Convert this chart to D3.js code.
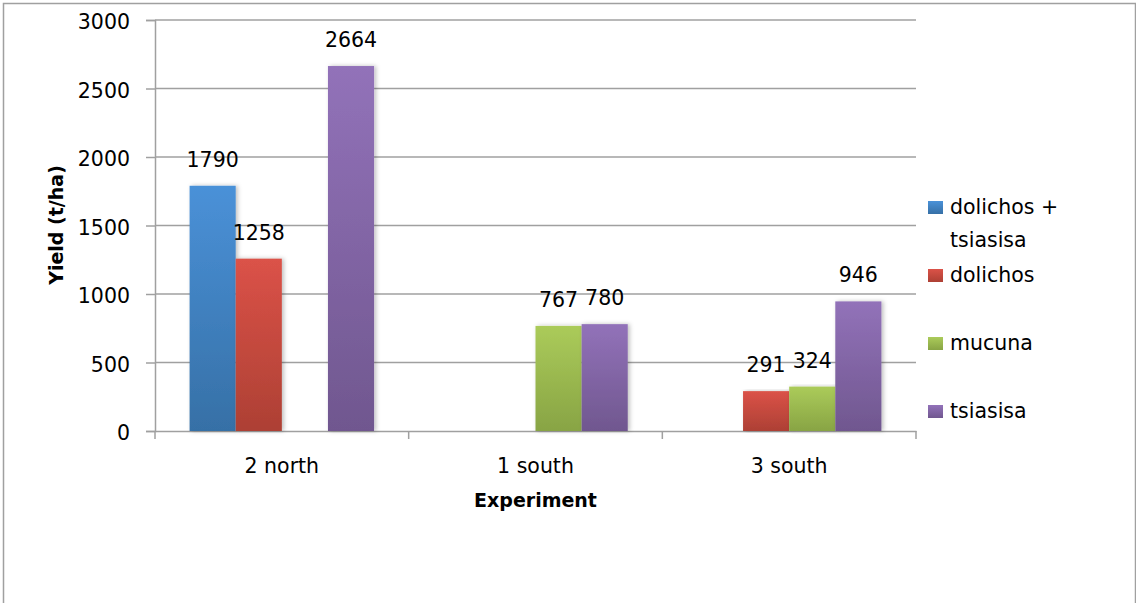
<!DOCTYPE html>
<html>
<head>
<meta charset="utf-8">
<script src="https://cdn.jsdelivr.net/npm/d3@7"></script>
<style>
  body { margin: 0; background: white; }
  svg { font-family: "DejaVu Sans", "Open Sans", sans-serif; }
</style>
</head>
<body>
<svg></svg>
<script>
const experiments = ["2 north", "1 south", "3 south"];
const seriesNames = ["dolichos + tsiasisa", "dolichos", "mucuna", "tsiasisa"];
const legendLines = [["dolichos +", "tsiasisa"], ["dolichos"], ["mucuna"], ["tsiasisa"]];
// null = no bar in that experiment
const dolichosTsiasisa = [1790, null, null];
const dolichos = [1258, null, 291];
const mucuna = [null, 767, 324];
const tsiasisa = [2664, 780, 946];
const yTicks = [0, 500, 1000, 1500, 2000, 2500, 3000];

const seriesValues = [dolichosTsiasisa, dolichos, mucuna, tsiasisa];
const colors = [
  ["#4a91d8", "#3670a6"],
  ["#db5248", "#ad4034"],
  ["#abcb5a", "#88a444"],
  ["#9272b9", "#70578f"]
];

const W = 1136, H = 603;
const plot = { left: 155, right: 916, top: 20, bottom: 431 };
const fontSize = "20.5px";

const svg = d3.select("svg").attr("width", W).attr("height", H);

// outer chart border
svg.append("rect")
  .attr("x", 3.5).attr("y", 3.5)
  .attr("width", W - 4).attr("height", H + 10)
  .attr("fill", "none").attr("stroke", "#a0a0a0").attr("stroke-width", 1.5);

const defs = svg.append("defs");
colors.forEach((c, i) => {
  const g = defs.append("linearGradient")
    .attr("id", "grad" + i)
    .attr("x1", 0).attr("y1", 0).attr("x2", 0).attr("y2", 1);
  g.append("stop").attr("offset", "0%").attr("stop-color", c[0]);
  g.append("stop").attr("offset", "100%").attr("stop-color", c[1]);
});
const shadow = defs.append("filter").attr("id", "shadow")
  .attr("x", "-20%").attr("y", "-5%").attr("width", "150%").attr("height", "110%");
shadow.append("feDropShadow")
  .attr("dx", 2).attr("dy", 0).attr("stdDeviation", 2)
  .attr("flood-color", "#000").attr("flood-opacity", 0.25);

const y = d3.scaleLinear().domain([0, 3000]).range([plot.bottom, plot.top]);
const x0 = d3.scaleBand().domain(experiments).range([plot.left, plot.right]);
// Excel-style gap width 150%
const barW = x0.bandwidth() / 5.5;
const x1 = d3.scaleBand().domain(d3.range(4))
  .range([barW * 0.75, barW * 0.75 + barW * 4]);

// gridlines
svg.append("g")
  .selectAll("line")
  .data(yTicks.filter(d => d > 0))
  .join("line")
  .attr("x1", plot.left).attr("x2", plot.right)
  .attr("y1", d => y(d)).attr("y2", d => y(d))
  .attr("stroke", "#a0a0a0").attr("stroke-width", 1.5);

// y axis
const yAxis = svg.append("g")
  .attr("transform", `translate(${plot.left},0)`)
  .call(d3.axisLeft(y).tickValues(yTicks).tickFormat(d3.format("d"))
    .tickSizeOuter(0).tickSize(9).tickPadding(16))
  .attr("font-family", null).attr("font-size", null);
yAxis.select(".domain").attr("stroke", "#a0a0a0").attr("stroke-width", 1.5);
yAxis.selectAll(".tick line").attr("stroke", "#a0a0a0").attr("stroke-width", 1.5);
yAxis.selectAll("text")
  .style("font-size", fontSize).attr("fill", "#000").attr("dy", "0.42em");

// x axis
const xAxis = svg.append("g")
  .attr("transform", `translate(0,${plot.bottom})`)
  .call(d3.axisBottom(x0).tickSize(0).tickPadding(27))
  .attr("font-family", null).attr("font-size", null);
xAxis.select(".domain").attr("stroke", "#a0a0a0").attr("stroke-width", 1.5);
xAxis.selectAll("text").style("font-size", fontSize).attr("fill", "#000");
xAxis.selectAll(".sep")
  .data([plot.left, ...experiments.map(e => x0(e) + x0.bandwidth())])
  .join("line")
  .attr("x1", d => d).attr("x2", d => d)
  .attr("y1", 0).attr("y2", 8)
  .attr("stroke", "#a0a0a0").attr("stroke-width", 1.5);

// bars
const barData = [];
seriesValues.forEach((vals, s) => {
  vals.forEach((v, c) => {
    if (v !== null) barData.push({ s, exp: experiments[c], v });
  });
});

svg.append("g")
  .selectAll("rect")
  .data(barData)
  .join("rect")
  .attr("x", d => x0(d.exp) + x1(d.s))
  .attr("y", d => y(d.v))
  .attr("width", x1.bandwidth())
  .attr("height", d => y(0) - y(d.v))
  .attr("fill", d => `url(#grad${d.s})`)
  .attr("filter", "url(#shadow)");

svg.append("g")
  .selectAll("text")
  .data(barData)
  .join("text")
  .attr("x", d => x0(d.exp) + x1(d.s) + x1.bandwidth() / 2)
  .attr("y", d => y(d.v) - 19)
  .attr("text-anchor", "middle")
  .style("font-size", fontSize)
  .text(d => d.v);

// axis titles
svg.append("text")
  .attr("transform", `translate(63,225) rotate(-90)`)
  .attr("text-anchor", "middle")
  .style("font-size", "19px").style("font-weight", "bold")
  .text("Yield (t/ha)");

svg.append("text")
  .attr("x", (plot.left + plot.right) / 2)
  .attr("y", 507)
  .attr("text-anchor", "middle")
  .style("font-size", "19px").style("font-weight", "bold")
  .text("Experiment");

// legend
const legendTop = [207, 275, 343, 411];
const legend = svg.append("g");
seriesNames.forEach((name, i) => {
  const row = legend.append("g").attr("transform", `translate(928,${legendTop[i]})`);
  row.append("rect")
    .attr("x", 0).attr("y", -6).attr("width", 15).attr("height", 13)
    .attr("fill", `url(#grad${i})`);
  legendLines[i].forEach((line, j) => {
    row.append("text")
      .attr("x", 22).attr("y", j * 33)
      .attr("dy", "0.36em")
      .style("font-size", fontSize)
      .text(line);
  });
});
</script>
</body>
</html>
